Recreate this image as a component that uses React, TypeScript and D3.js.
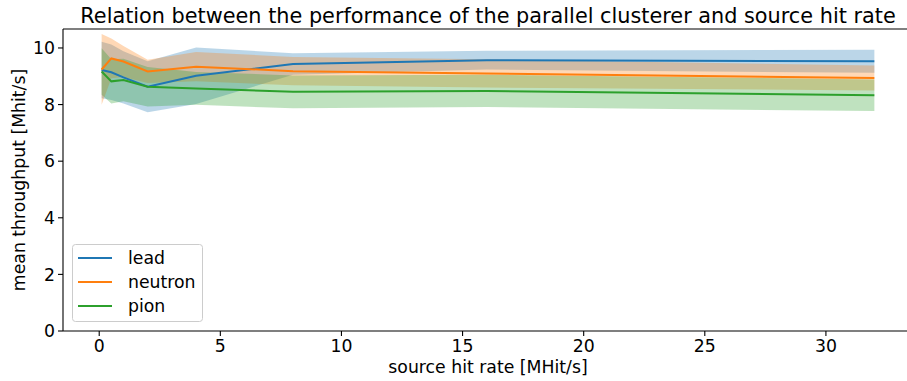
import React from 'react';
import * as d3 from 'd3';

// source hit rate [MHit/s]
const hitRates = [0.1, 0.5, 1, 2, 4, 8, 16, 32];

const leadMean = [9.22, 9.14, 8.96, 8.63, 9.02, 9.43, 9.57, 9.53];
const leadStd = [1.0, 0.98, 0.92, 0.9, 1.0, 0.38, 0.33, 0.41];

const neutronMean = [9.24, 9.63, 9.52, 9.17, 9.34, 9.18, 9.1, 8.94];
const neutronStd = [1.25, 0.7, 0.55, 0.41, 0.52, 0.5, 0.5, 0.44];

const pionMean = [9.17, 8.82, 8.87, 8.63, 8.57, 8.45, 8.48, 8.33];
const pionStd = [0.82, 0.78, 0.75, 0.7, 0.58, 0.58, 0.57, 0.56];

const seriesNames = ['lead', 'neutron', 'pion'];
const seriesColors = ['#1f77b4', '#ff7f0e', '#2ca02c'];

const xTicks = [0, 5, 10, 15, 20, 25, 30];
const yTicks = [0, 2, 4, 6, 8, 10];

const W = 907;
const H = 381;
const margin = { top: 29, right: -6, bottom: 50, left: 63 };
const font = 'DejaVu Sans, sans-serif';
const fs = 17.3;

export default function App() {
  const x = d3.scaleLinear().domain([-1.495, 33.595]).range([margin.left, W - margin.right]);
  const y = d3.scaleLinear().domain([0, 10.67]).range([H - margin.bottom, margin.top]);

  const series = [
    { mean: leadMean, std: leadStd },
    { mean: neutronMean, std: neutronStd },
    { mean: pionMean, std: pionStd },
  ];

  const line = d3.line<number>()
    .x((_, i) => x(hitRates[i]))
    .y(d => y(d));

  const band = (mean: number[], std: number[]) =>
    d3.area<number>()
      .x((_, i) => x(hitRates[i]))
      .y0((d, i) => y(d - std[i]))
      .y1((d, i) => y(d + std[i]))(mean);

  const x0 = margin.left;
  const x1 = W - margin.right;
  const yb = H - margin.bottom;

  return (
    <svg width={W} height={H} style={{ position: 'absolute', left: 0, top: 0, background: '#fff' }}
      fontFamily={font}>
      {series.map((s, k) => (
        <path key={'b' + k} d={band(s.mean, s.std) || ''} fill={seriesColors[k]} fillOpacity={0.3} stroke="none" />
      ))}
      {series.map((s, k) => (
        <path key={'l' + k} d={line(s.mean) || ''} fill="none" stroke={seriesColors[k]} strokeWidth={2} />
      ))}

      {/* spines */}
      <line x1={x0} x2={x0} y1={margin.top} y2={yb} stroke="#000" strokeWidth={1.1} />
      <line x1={x0} x2={x1} y1={yb} y2={yb} stroke="#000" strokeWidth={1.1} />
      <line x1={x0} x2={x1} y1={margin.top} y2={margin.top} stroke="#000" strokeWidth={1.1} />

      {xTicks.map(t => (
        <g key={'xt' + t}>
          <line x1={x(t)} x2={x(t)} y1={yb} y2={yb + 5} stroke="#000" strokeWidth={1.1} />
          <text x={x(t)} y={yb + 8} dy="0.76em" textAnchor="middle" fontSize={fs}>{t}</text>
        </g>
      ))}
      {yTicks.map(t => (
        <g key={'yt' + t}>
          <line x1={x0 - 5} x2={x0} y1={y(t)} y2={y(t)} stroke="#000" strokeWidth={1.1} />
          <text x={x0 - 8} y={y(t)} dy="0.36em" textAnchor="end" fontSize={fs}>{t}</text>
        </g>
      ))}

      <text x={(x0 + x1) / 2} y={373} textAnchor="middle" fontSize={fs}>source hit rate [MHit/s]</text>
      <text transform={`translate(25,${(margin.top + yb) / 2}) rotate(-90)`} textAnchor="middle" fontSize={fs}>
        mean throughput [Mhit/s]
      </text>
      <text x={(x0 + x1) / 2} y={23} textAnchor="middle" fontSize={20.8}>
        Relation between the performance of the parallel clusterer and source hit rate
      </text>

      {/* legend */}
      <rect x={72.5} y={244.5} width={130} height={77} rx={3} fill="#fff" fillOpacity={0.8} stroke="#ccc" strokeWidth={1} />
      {seriesNames.map((n, k) => (
        <g key={'lg' + n}>
          <line x1={78} x2={112} y1={258 + k * 24} y2={258 + k * 24} stroke={seriesColors[k]} strokeWidth={2} />
          <text x={128} y={258 + k * 24} dy="0.36em" fontSize={fs}>{n}</text>
        </g>
      ))}
    </svg>
  );
}
